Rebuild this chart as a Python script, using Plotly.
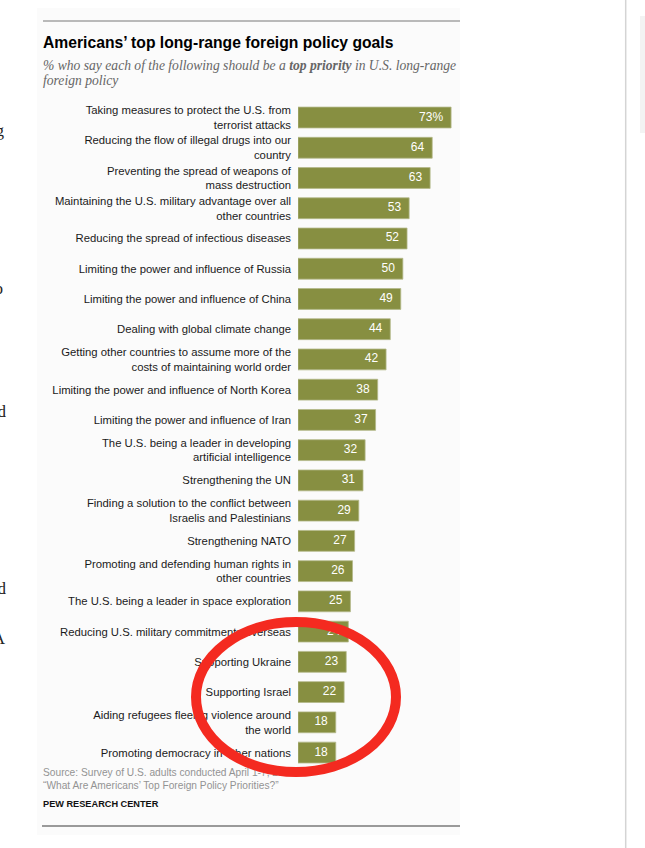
import plotly.graph_objects as go

# ---------------- data ----------------
categories = [
    "Taking measures to protect the U.S. from<br>terrorist attacks",
    "Reducing the flow of illegal drugs into our<br>country",
    "Preventing the spread of weapons of<br>mass destruction",
    "Maintaining the U.S. military advantage over all<br>other countries",
    "Reducing the spread of infectious diseases",
    "Limiting the power and influence of Russia",
    "Limiting the power and influence of China",
    "Dealing with global climate change",
    "Getting other countries to assume more of the<br>costs of maintaining world order",
    "Limiting the power and influence of North Korea",
    "Limiting the power and influence of Iran",
    "The U.S. being a leader in developing<br>artificial intelligence",
    "Strengthening the UN",
    "Finding a solution to the conflict between<br>Israelis and Palestinians",
    "Strengthening NATO",
    "Promoting and defending human rights in<br>other countries",
    "The U.S. being a leader in space exploration",
    "Reducing U.S. military commitments overseas",
    "Supporting Ukraine",
    "Supporting Israel",
    "Aiding refugees fleeing violence around<br>the world",
    "Promoting democracy in other nations",
]
values = [73, 64, 63, 53, 52, 50, 49, 44, 42, 38, 37, 32, 31, 29, 27, 26, 25, 24, 23, 22, 18, 18]
value_labels = [f"{v}%" if i == 0 else str(v) for i, v in enumerate(values)]

title_text = "Americans’ top long-range foreign policy goals"
subtitle_lines = [
    "% who say each of the following should be a <b>top priority</b> in U.S. long-range",
    "foreign policy",
]
source_lines = [
    "Source: Survey of U.S. adults conducted April 1-7, 2024.",
    "“What Are Americans’ Top Foreign Policy Priorities?”",
]
credit_text = "PEW RESEARCH CENTER"
edge_letters = ["g", "o", "d", "d", "A"]

# ---------------- layout constants ----------------
W, H = 645, 848
BAR_COLOR = "#878f41"
SANS = "Liberation Sans, Arial, sans-serif"
SERIF = "Liberation Serif, Times New Roman, serif"


def px(x):
    return x / W


def py(y):
    return 1 - y / H


BAR_X0 = 298
PX_PER_UNIT = 2.097
X_MAX = 100
ROW_TOP, ROW_PITCH = 102.4, 30.24
n = len(categories)
bar_domain = [px(BAR_X0), px(BAR_X0 + PX_PER_UNIT * X_MAX)]
lbl_domain = [px(BAR_X0 - 8), px(BAR_X0 - 8 + PX_PER_UNIT * X_MAX)]
y_domain = [py(ROW_TOP + n * ROW_PITCH), py(ROW_TOP)]

fig = go.Figure()

# bars
fig.add_trace(go.Bar(
    x=values, y=categories, orientation="h",
    marker=dict(color=BAR_COLOR, line=dict(color="#b4b98a", width=0.8)),
    width=0.69, hoverinfo="skip", xaxis="x", yaxis="y",
))
# value labels (inside bar end)
fig.add_trace(go.Scatter(
    x=values, y=categories, mode="text", text=value_labels,
    textposition="middle left",
    textfont=dict(color="white", size=12, family=SANS),
    xaxis="x3", yaxis="y", hoverinfo="skip", cliponaxis=False,
))


def ptext(x, y, text, size, color, family, pos="middle right"):
    fig.add_trace(go.Scatter(
        x=[x], y=[y], mode="text", text=[text], textposition=pos,
        textfont=dict(size=size, color=color, family=family),
        xaxis="x2", yaxis="y2", hoverinfo="skip", cliponaxis=True,
    ))


# title, subtitle, source, credit
ptext(43, 44, f"<b>{title_text}</b>", 15.7, "#000000", SANS)
ptext(43, 67, f"<i>{subtitle_lines[0]}</i>", 13.6, "#666666", SERIF)
ptext(43, 82, f"<i>{subtitle_lines[1]}</i>", 13.6, "#666666", SERIF)
ptext(43, 773, source_lines[0], 10.2, "#939393", SANS)
ptext(43, 786, source_lines[1], 10.2, "#939393", SANS)
ptext(43, 805, f"<b>{credit_text}</b>", 9.2, "#111111", SANS)

# clipped letters of surrounding page text at the left edge
edge_pos = [(4, 132), (3, 290), (6, 413), (6, 590), (5, 640)]
for ch, (ex, ey) in zip(edge_letters, edge_pos):
    ptext(ex, ey, ch, 17, "#222222", SERIF, pos="middle left")

shapes = [
    # panel background
    dict(type="rect", xref="paper", yref="paper", x0=px(37), x1=px(460), y0=py(835), y1=py(8),
         fillcolor="#fbfbfb", line=dict(width=0), layer="below"),
    # top & bottom rules
    dict(type="line", xref="paper", yref="paper", x0=px(43), x1=px(460), y0=py(21), y1=py(21),
         line=dict(color="#a3a3a3", width=1.5), layer="below"),
    dict(type="line", xref="paper", yref="paper", x0=px(42), x1=px(460), y0=py(826), y1=py(826),
         line=dict(color="#9a9a9a", width=2), layer="below"),
    # right page divider and sidebar box
    dict(type="line", xref="paper", yref="paper", x0=px(625.7), x1=px(625.7), y0=0, y1=1,
         line=dict(color="#d4d4d4", width=1.5), layer="below"),
    dict(type="rect", xref="paper", yref="paper", x0=px(640), x1=px(648), y0=py(133), y1=py(16),
         fillcolor="#f3f3f3", line=dict(width=0), layer="below"),
    # red hand-drawn ellipse
    dict(type="circle", xref="paper", yref="paper", x0=px(196), x1=px(396), y0=py(772), y1=py(622),
         line=dict(color="#f42a20", width=10), layer="above"),
]

fig.update_layout(
    width=W, height=H,
    margin=dict(l=0, r=0, t=0, b=0),
    paper_bgcolor="white", plot_bgcolor="rgba(0,0,0,0)",
    showlegend=False, bargap=0.3,
    shapes=shapes,
    xaxis=dict(domain=bar_domain, range=[0, X_MAX], visible=False, anchor="y", fixedrange=True),
    xaxis3=dict(domain=lbl_domain, range=[0, X_MAX], visible=False, anchor="y", fixedrange=True),
    yaxis=dict(domain=y_domain, type="category", categoryorder="array", categoryarray=categories,
               range=[n - 0.5, -0.5], showgrid=False, zeroline=False, showline=False,
               ticks="", ticklabelstandoff=6, anchor="x",
               tickfont=dict(size=11.3, color="#1a1a1a", family=SANS), fixedrange=True),
    xaxis2=dict(domain=[0, 1], range=[0, W], visible=False, anchor="y2", fixedrange=True),
    yaxis2=dict(domain=[0, 1], range=[H, 0], visible=False, anchor="x2", fixedrange=True),
)

fig.write_html("out.html", config={"displayModeBar": False},
               post_script="document.body.style.margin='0';document.body.style.overflow='hidden';")
